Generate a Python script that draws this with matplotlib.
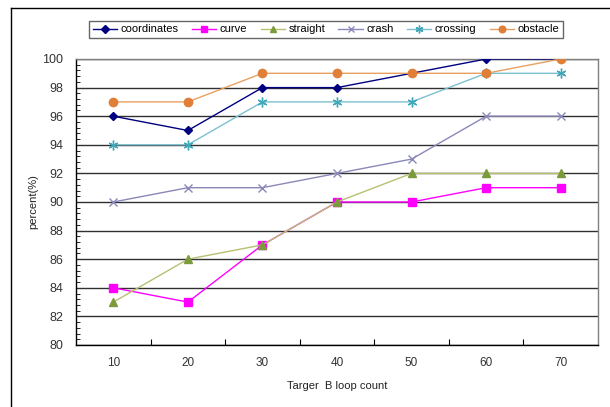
import matplotlib
matplotlib.use("Agg")
import matplotlib.pyplot as plt
from matplotlib.lines import Line2D
from matplotlib.ticker import MultipleLocator
import numpy as np

plt.rcParams["font.family"] = ["Liberation Sans", "DejaVu Sans"]

# data
loop_counts = ["10", "20", "30", "40", "50", "60", "70"]
coordinates = [96, 95, 98, 98, 99, 100, 100]
curve = [84, 83, 87, 90, 90, 91, 91]
straight = [83, 86, 87, 90, 92, 92, 92]
crash = [90, 91, 91, 92, 93, 96, 96]
crossing = [94, 94, 97, 97, 97, 99, 99]
obstacle = [97, 97, 99, 99, 99, 99, 100]

series = [
    ("coordinates", coordinates, "#000080", "#000080", "D", 4.5),
    ("curve", curve, "#ff00ff", "#ff00ff", "s", 5.5),
    ("straight", straight, "#b8c070", "#7a9a3c", "^", 5.5),
    ("crash", crash, "#8a88b8", "#8a88b8", "x", 6),
    ("crossing", crossing, "#7cc0d0", "#40a8b8", (6, 2, 0), 7),
    ("obstacle", obstacle, "#e8a060", "#e08038", "o", 6),
]

fig = plt.figure(figsize=(6.1, 4.07), dpi=100)
ax = fig.add_axes([76 / 610, 1 - 345 / 407, 522 / 610, 286 / 407])

x = np.arange(len(loop_counts))
for name, vals, lc, mc, mk, ms in series:
    ax.plot(x, vals, color=lc, linewidth=1.0, marker=mk, markersize=ms,
            markerfacecolor=mc, markeredgecolor=mc, markeredgewidth=1.0,
            label=name, zorder=3)

ax.set_xlim(-0.5, len(loop_counts) - 0.5)
ax.set_ylim(80, 100)
ax.set_xticks(x)
ax.set_xticklabels(loop_counts)
ax.set_xticks(np.arange(0.5, len(loop_counts) - 1, 1.0), minor=True)
ax.tick_params(axis="x", which="major", length=0, pad=9, labelsize=8.5,
               labelcolor="#333333")
ax.tick_params(axis="x", which="minor", length=4, direction="in", width=0.8)
ax.yaxis.set_major_locator(MultipleLocator(2))
ax.yaxis.set_minor_locator(MultipleLocator(0.4))
ax.tick_params(axis="y", which="major", length=0, pad=9, labelsize=9,
               labelcolor="#333333")
ax.tick_params(axis="y", which="minor", length=3, direction="in", width=0.6)
ax.grid(axis="y", which="major", color="#303030", linewidth=1.0, zorder=1)
ax.set_axisbelow(True)

ax.spines["left"].set_color("black")
ax.spines["bottom"].set_color("black")
ax.spines["right"].set_color("#808080")
ax.spines["top"].set_color("#808080")
for s in ax.spines.values():
    s.set_linewidth(1.0)

ax.set_ylabel("percent(%)", fontsize=8, labelpad=3, color="#222222")
ax.set_xlabel("Targer  B loop count", fontsize=8, labelpad=8, color="#222222")

leg = fig.legend(loc="center", bbox_to_anchor=(326 / 610, 1 - 29.5 / 407),
                 ncol=6, fontsize=8, frameon=True, fancybox=False,
                 handlelength=2.2, handletextpad=0.3, columnspacing=1.2,
                 borderpad=0.35, markerscale=0.8)
leg.get_frame().set_edgecolor("#404040")
leg.get_frame().set_linewidth(1.0)

# outer chart frame (only left and top visible in the reference)
fig.add_artist(Line2D([11 / 610, 11 / 610], [0, 1 - 8 / 407], color="black", linewidth=1.0))
fig.add_artist(Line2D([11 / 610, 1], [1 - 8 / 407, 1 - 8 / 407], color="black", linewidth=1.0))

fig.savefig("out.png", dpi=100)
